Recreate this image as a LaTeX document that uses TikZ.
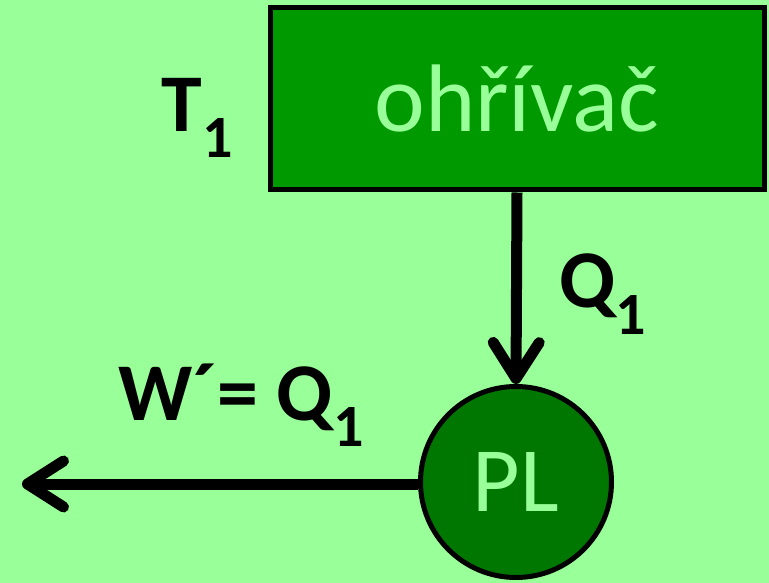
\documentclass[tikz,border=0pt]{standalone}
\usepackage{fontspec}
\setmainfont{Carlito}
\usetikzlibrary{arrows.meta}
\definecolor{bgcolor}{HTML}{99FF99}
\definecolor{heatercolor}{HTML}{009900}
\definecolor{enginecolor}{HTML}{007700}
\definecolor{labelcolor}{HTML}{99FF99}
\newcommand{\subone}{\raisebox{-.32em}{\fontsize{60}{60}\selectfont 1}}
\tikzset{
  heat box/.style={draw=black,line width=5pt,fill=heatercolor,text=labelcolor,
    minimum width=494pt,minimum height=182pt,inner sep=0pt,font=\fontsize{96}{110}\selectfont},
  heat engine/.style={circle,draw=black,line width=5pt,fill=enginecolor,text=labelcolor,
    minimum size=191pt,inner sep=0pt,font=\fontsize{92}{100}\selectfont},
  heat flow/.style={draw=black,line width=11pt,-{Straight Barb[length=36pt,width=46pt,round]}},
  heat label/.style={font=\bfseries\fontsize{82}{90}\selectfont,inner sep=0pt}
}
\begin{document}
\begin{tikzpicture}[x=1pt,y=-1pt]
  \fill[bgcolor] (0,0) rectangle (769,583);
  \useasboundingbox (0,0) rectangle (769,583);
  \node[heat box] (heater) at (517,99) {ohřívač};
  \node[heat engine] (engine) at (516,482) {PL};
  \node[heat label] (t1) at (197,118) {T\subone};
  \node[heat label] (q1) at (603,294) {Q\subone};
  \node[heat label] (w) at (241,405) {W´= Q\subone};
  \coordinate (out) at (22,484);
  \draw[heat flow] (heater.south) -- (engine.north);
  \draw[heat flow] (engine.west |- out) -- (out);
\end{tikzpicture}
\end{document}
